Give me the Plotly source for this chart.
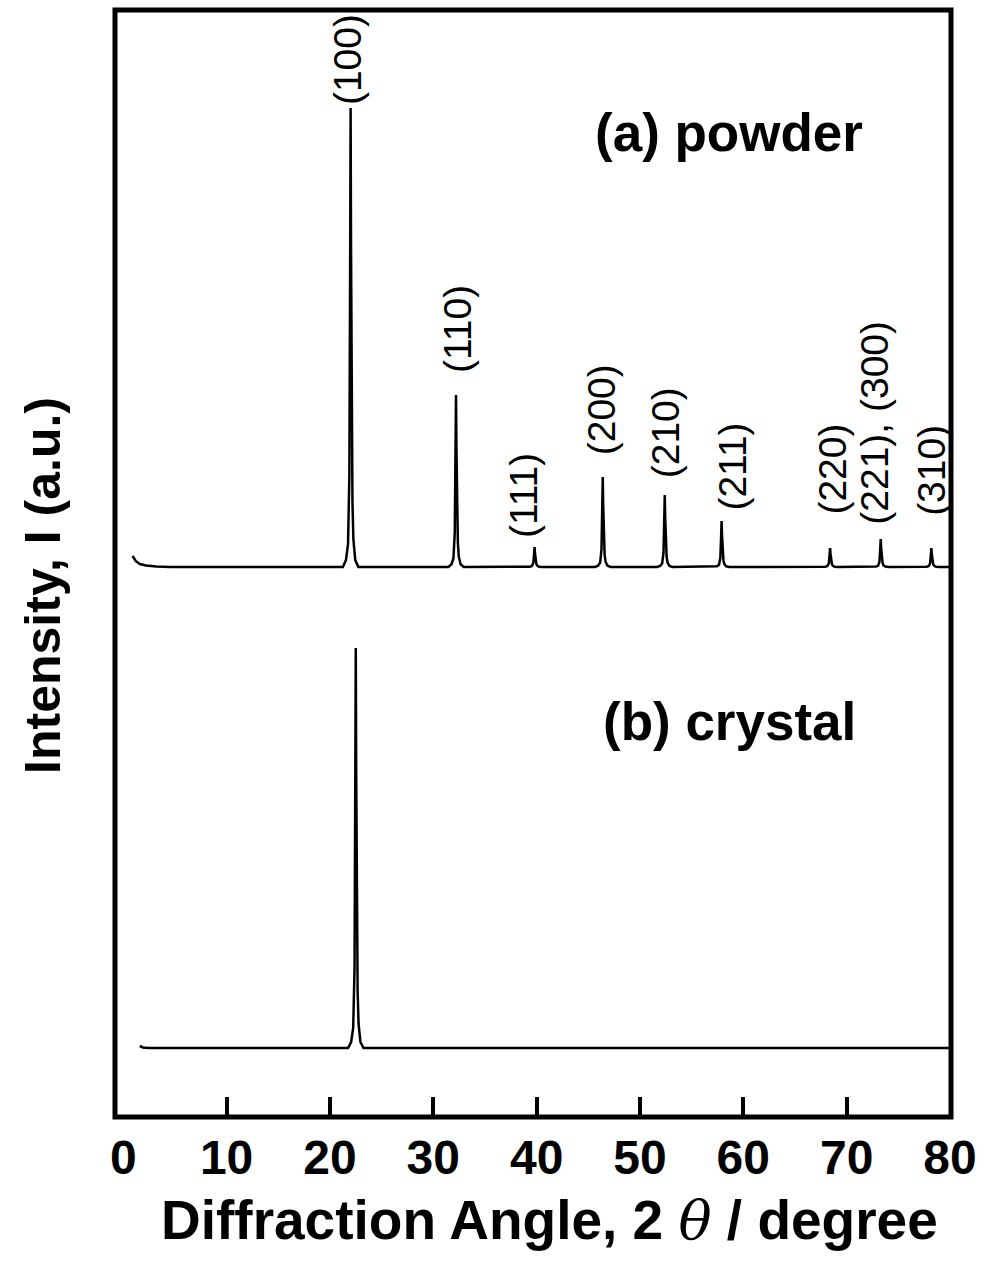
import plotly.graph_objects as go

# X-ray diffraction patterns of the powder sample and the single crystal
hkl_labels = ["(100)", "(110)", "(111)", "(200)", "(210)", "(211)",
              "(220)", "(221), (300)", "(310)"]
powder_two_theta = [22.0, 32.2, 39.8, 46.4, 52.4, 57.9, 68.4, 73.3, 78.2]
powder_intensity = [459, 172, 20, 90, 72, 46, 19, 28, 19]
powder_start_two_theta = [0.9, 1.2, 1.6, 2.2, 3.2, 4.5]
powder_start_intensity = [11, 6, 3, 1.5, 0.5, 0]

crystal_two_theta = [22.5]
crystal_intensity = [400]
crystal_start_two_theta = [1.6, 1.9, 2.5]
crystal_start_intensity = [2, 0.5, 0]

powder_offset = 550
crystal_offset = 69
x_end = 80.0

tick_values = [0, 10, 20, 30, 40, 50, 60, 70, 80]

# Peak profile template: offset in degrees and fraction of peak height
PROFILE_DX = [-0.75, -0.45, -0.25, -0.12, -0.04, 0.0, 0.04, 0.12, 0.18, 0.27, 0.45, 0.75]
PROFILE_FR = [0.0, 0.015, 0.05, 0.2, 0.7, 1.0, 0.7, 0.22, 0.14, 0.06, 0.015, 0.0]


def build_pattern(start_x, start_y, centers, heights, offset):
    xs = list(start_x)
    ys = [offset + v for v in start_y]
    for c, h in zip(centers, heights):
        for dx, fr in zip(PROFILE_DX, PROFILE_FR):
            xs.append(c + dx)
            ys.append(offset + h * fr)
    xs.append(x_end)
    ys.append(offset)
    return xs, ys


px, py = build_pattern(powder_start_two_theta, powder_start_intensity,
                       powder_two_theta, powder_intensity, powder_offset)
cx, cy = build_pattern(crystal_start_two_theta, crystal_start_intensity,
                       crystal_two_theta, crystal_intensity, crystal_offset)

fig = go.Figure()
line_style = dict(color="black", width=2.5)
fig.add_trace(go.Scatter(x=px, y=py, mode="lines", line=line_style,
                         hoverinfo="skip", showlegend=False))
fig.add_trace(go.Scatter(x=cx, y=cy, mode="lines", line=line_style,
                         hoverinfo="skip", showlegend=False, xaxis="x2"))

label_font = dict(family="Liberation Sans, Arial, sans-serif", size=39, color="black")
label_gap = [1, 20, 7, 20, 15, 8, 31, 12, 30]
label_dx = [-3, 1, -11, -1, 1, 10, 2, -7, 0]
for lab, pos, inten, gap, dx in zip(hkl_labels, powder_two_theta, powder_intensity,
                                    label_gap, label_dx):
    fig.add_annotation(x=pos, y=powder_offset + inten, text=lab, textangle=-90,
                       xanchor="center", yanchor="bottom", showarrow=False,
                       yshift=gap, xshift=dx, font=label_font)

panel_font = dict(family="Liberation Sans, Arial, sans-serif", size=53, color="black")
fig.add_annotation(x=0.734, y=0.889, xref="paper", yref="paper", text="<b>(a) powder</b>",
                   showarrow=False, xanchor="center", yanchor="middle", font=panel_font)
fig.add_annotation(x=0.735, y=0.357, xref="paper", yref="paper", text="<b>(b) crystal</b>",
                   showarrow=False, xanchor="center", yanchor="middle", font=panel_font)

# Axis titles
fig.add_annotation(x=-0.087, y=0.48, xref="paper", yref="paper",
                   text="<b>Intensity, I (a.u.)</b>", textangle=-90, showarrow=False,
                   xanchor="center", yanchor="middle",
                   font=dict(family="Liberation Sans, Arial, sans-serif", size=50, color="black"))
fig.add_annotation(x=0.52, y=-0.093, xref="paper", yref="paper",
                   text="<b>Diffraction Angle, 2 </b><span style=\"font-family:'DejaVu Serif'\"><i>θ</i></span><b> / degree</b>",
                   showarrow=False, xanchor="center", yanchor="middle",
                   font=dict(family="Liberation Sans, Arial, sans-serif", size=55, color="black"))

# Plot frame
fig.add_shape(type="rect", xref="paper", yref="paper", x0=0, x1=1, y0=0, y1=1,
              line=dict(color="black", width=5), fillcolor="rgba(0,0,0,0)")

x_range = [-0.8, 80.1]
fig.update_layout(
    width=991, height=1268,
    margin=dict(l=115, r=40, t=10, b=151),
    paper_bgcolor="white", plot_bgcolor="white",
    xaxis=dict(range=x_range, tickvals=[10, 20, 30, 40, 50, 60, 70], ticks="inside",
               ticklen=20, tickwidth=4, tickcolor="black", showticklabels=False,
               showgrid=False, zeroline=False, showline=False),
    xaxis2=dict(range=x_range, overlaying="x", side="bottom", tickvals=tick_values,
                ticktext=[str(v) for v in tick_values], ticks="", showgrid=False,
                zeroline=False, showline=False, ticklabelstandoff=8,
                tickfont=dict(family="Liberation Sans, Arial, sans-serif",
                              size=48, color="black", weight="bold")),
    yaxis=dict(range=[0, 1107], showticklabels=False, ticks="", showgrid=False,
               zeroline=False, showline=False),
)

fig.write_html("out.html")
